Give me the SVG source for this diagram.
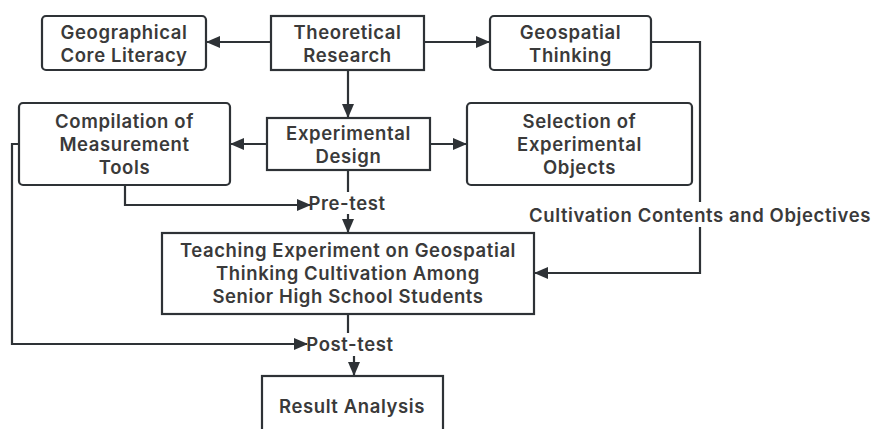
<svg xmlns="http://www.w3.org/2000/svg" width="874" height="429" viewBox="0 0 874 429">
<style>
.box{fill:#fff;stroke:#2e3236;stroke-width:2.2}
.t{font-family:Inter,"Open Sans",sans-serif;font-weight:600;font-size:18.5px;letter-spacing:0.6px;fill:#3a3a3a;text-anchor:middle}
.c{fill:none;stroke:#2e3236;stroke-width:2.2}
</style>
<defs>
<marker id="ah" markerUnits="userSpaceOnUse" markerWidth="14" markerHeight="12" refX="13" refY="6" orient="auto">
<path d="M0,0 L14,6 L0,12 Z" fill="#2e3236"/>
</marker>
</defs>
<rect width="874" height="429" fill="#fff"/>
<g id="connectors">
<path class="c" d="M271,42 H207" marker-end="url(#ah)"/>
<path class="c" d="M424,42 H489" marker-end="url(#ah)"/>
<path class="c" d="M348,70 V117" marker-end="url(#ah)"/>
<path class="c" d="M267,144 H231" marker-end="url(#ah)"/>
<path class="c" d="M430,144 H466" marker-end="url(#ah)"/>
<path class="c" d="M651,42 H700 V202"/>
<path class="c" d="M700,227 V273 H535" marker-end="url(#ah)"/>
<path class="c" d="M348,170 V192"/>
<path class="c" d="M125,185 V205 H310" marker-end="url(#ah)"/>
<path class="c" d="M348,214 V232" marker-end="url(#ah)"/>
<path class="c" d="M19,144 H12 V344 H307" marker-end="url(#ah)"/>
<path class="c" d="M348,314 V333"/>
<path class="c" d="M354,356 V375" marker-end="url(#ah)"/>
</g>
<g id="geo-core">
<rect class="box" x="42" y="16" width="164" height="54" rx="4"/>
<text class="t" x="124" y="39">Geographical</text>
<text class="t" x="124" y="62">Core Literacy</text>
</g>
<g id="theoretical">
<rect class="box" x="271" y="16" width="153" height="54"/>
<text class="t" x="347.5" y="39">Theoretical</text>
<text class="t" x="347.5" y="62">Research</text>
</g>
<g id="geospatial">
<rect class="box" x="490" y="16" width="161" height="54" rx="4"/>
<text class="t" x="570.5" y="39">Geospatial</text>
<text class="t" x="570.5" y="62">Thinking</text>
</g>
<g id="compilation">
<rect class="box" x="19" y="103" width="211" height="82" rx="4"/>
<text class="t" x="124.5" y="128">Compilation of</text>
<text class="t" x="124.5" y="151">Measurement</text>
<text class="t" x="124.5" y="174">Tools</text>
</g>
<g id="experimental">
<rect class="box" x="267" y="118" width="163" height="52"/>
<text class="t" x="348.5" y="140">Experimental</text>
<text class="t" x="348.5" y="163">Design</text>
</g>
<g id="selection">
<rect class="box" x="467" y="103" width="225" height="82" rx="4"/>
<text class="t" x="579.5" y="128">Selection of</text>
<text class="t" x="579.5" y="151">Experimental</text>
<text class="t" x="579.5" y="174">Objects</text>
</g>
<g id="pretest">
<text class="t" x="347" y="210">Pre-test</text>
</g>
<g id="cultivation-label">
<text class="t" x="700" y="222">Cultivation Contents and Objectives</text>
</g>
<g id="teaching">
<rect class="box" x="162" y="233" width="372" height="81"/>
<text class="t" x="348" y="257">Teaching Experiment on Geospatial</text>
<text class="t" x="348" y="280">Thinking Cultivation Among</text>
<text class="t" x="348" y="303">Senior High School Students</text>
</g>
<g id="posttest">
<text class="t" x="350" y="351">Post-test</text>
</g>
<g id="result">
<rect class="box" x="262" y="376" width="181" height="70"/>
<text class="t" x="352" y="413">Result Analysis</text>
</g>
</svg>
